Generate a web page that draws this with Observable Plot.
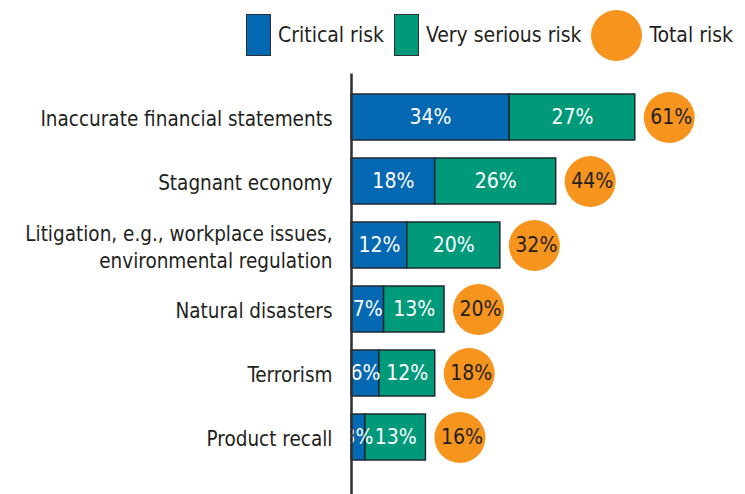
<!DOCTYPE html>
<html>
<head>
<meta charset="utf-8">
<script src="https://cdn.jsdelivr.net/npm/d3@7"></script>
<script src="https://cdn.jsdelivr.net/npm/@observablehq/plot@0.6"></script>
<style>
  html, body { margin: 0; padding: 0; background: #fff; }
  body { width: 745px; height: 494px; overflow: hidden; position: relative;
         font-family: "DejaVu Sans Condensed", "Liberation Sans", sans-serif; color: #231f20; }
  #legend { position: absolute; right: 12px; top: 7px; height: 56px; display: flex; align-items: center; font-size: 21px; }
  .sw { box-sizing: border-box; width: 25px; height: 42px; border: 1.5px solid #2b2f36; }
  .lab { margin-left: 7px; margin-right: 10px; white-space: nowrap; }
  .lab:last-child { margin-right: 0; }
  .dot { width: 51px; height: 51px; border-radius: 50%; background: #f7941d; }
  #chart { position: absolute; left: 0; top: 64px; }
</style>
</head>
<body>
<div id="legend"></div>
<div id="chart"></div>
<script>
const categories = [
  "Inaccurate financial statements",
  "Stagnant economy",
  "Litigation, e.g., workplace issues,\nenvironmental regulation",
  "Natural disasters",
  "Terrorism",
  "Product recall"
];
const critical = [34, 18, 12, 7, 6, 3];
const verySerious = [27, 26, 20, 13, 12, 13];
const total = [61, 44, 32, 20, 18, 16];
const seriesNames = ["Critical risk", "Very serious risk", "Total risk"];
const colors = ["#0468b3", "#009a7a", "#f7941d"];

// legend
const legend = document.getElementById("legend");
seriesNames.forEach((name, i) => {
  const sw = document.createElement("div");
  if (i < 2) { sw.className = "sw"; sw.style.background = colors[i]; }
  else { sw.className = "dot"; }
  const lab = document.createElement("div");
  lab.className = "lab"; lab.textContent = name;
  legend.appendChild(sw); legend.appendChild(lab);
});

const segs = [];
categories.forEach((c, i) => {
  segs.push({cat: c, series: seriesNames[0], x1: 0, x2: critical[i], v: critical[i]});
  segs.push({cat: c, series: seriesNames[1], x1: critical[i], x2: critical[i] + verySerious[i], v: verySerious[i]});
});
const totals = categories.map((c, i) => ({cat: c, total: total[i]}));

const plot = Plot.plot({
  width: 745,
  height: 430,
  marginLeft: 351,
  marginRight: 0,
  marginTop: 10.5,
  marginBottom: 14,
  style: {fontFamily: '"DejaVu Sans Condensed", "Liberation Sans", sans-serif', fontSize: "21px", color: "#231f20", background: "white"},
  x: {domain: [0, 84.7], axis: null},
  y: {domain: categories, padding: 0.287, label: null},
  color: {domain: seriesNames, range: colors},
  marks: [
    Plot.barX(segs, {y: "cat", x1: "x1", x2: "x2", fill: "series", stroke: "#1f2833", strokeWidth: 1.5}),
    Plot.text(segs, {y: "cat", x: d => (d.x1 + d.x2) / 2, text: d => d.v + "%", fill: "white", fontSize: 21}),
    Plot.dot(totals, {y: "cat", x: "total", r: 25.5, dx: 34, fill: colors[2], stroke: null}),
    Plot.text(totals, {y: "cat", x: "total", dx: 36, text: d => d.total + "%", fill: "#231f20", fontSize: 21}),
    Plot.axisY({tickSize: 0, tickPadding: 19, fontSize: 20.5, lineHeight: 1.35, fill: "#231f20"}),
    Plot.ruleX([0], {stroke: "#2f2f2f", strokeWidth: 2.5, insetTop: -1, insetBottom: -14})
  ]
});
document.getElementById("chart").appendChild(plot);
</script>
</body>
</html>
